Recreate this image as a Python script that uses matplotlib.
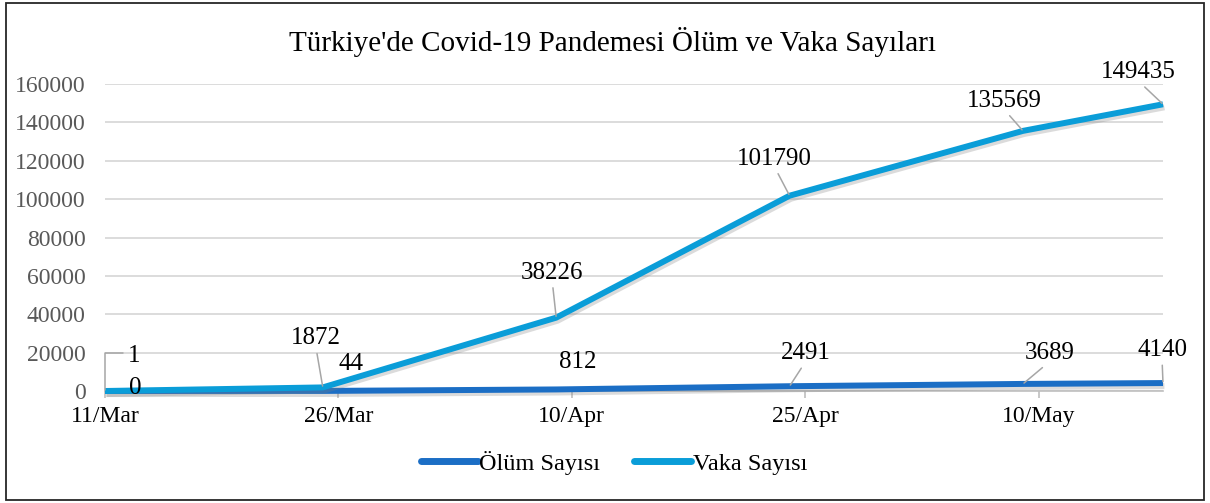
import matplotlib
matplotlib.use('Agg')
import matplotlib.pyplot as plt
import matplotlib.dates as mdates
import matplotlib.patheffects as pe
from matplotlib.patches import Rectangle
import datetime as dt

plt.rcParams['font.family'] = ['Liberation Serif', 'DejaVu Serif']

# data
dates = ['2020-03-11', '2020-03-25', '2020-04-09', '2020-04-24', '2020-05-09', '2020-05-18']
olum = [0, 44, 812, 2491, 3689, 4140]
vaka = [1, 1872, 38226, 101790, 135569, 149435]
series_names = ['Ölüm Sayısı', 'Vaka Sayısı']
title = "Türkiye'de Covid-19 Pandemesi Ölüm ve Vaka Sayıları"

x = [dt.datetime.strptime(d, '%Y-%m-%d') for d in dates]

# label offsets in pixels (dx, dy) and whether a leader line is drawn
olum_off = [(30, 3, False), (28, 27, False), (22, 27, False), (16, 33, True), (27, 31, True), (-1, 33, True)]
vaka_off = [(29, 35, True), (-7, 49, True), (-4, 45, True), (-15, 37, True), (-19, 30, True), (-25, 32, True)]

c_olum = '#1B6EC5'
c_vaka = '#0A9DD8'

fig = plt.figure(figsize=(12.1, 5.03), dpi=100)
ax = fig.add_axes([105/1210, 1-391/503, (1163-105)/1210, (391-84)/503])

shadow = [pe.SimpleLineShadow(offset=(1.0, -2.2), shadow_color='#7F7F7F', alpha=0.28), pe.Normal()]
ax.plot(x, olum, color=c_olum, lw=4.3, solid_capstyle='butt', label=series_names[0],
        path_effects=shadow, zorder=3, clip_on=False)
ax.plot(x, vaka, color=c_vaka, lw=4.3, solid_capstyle='butt', label=series_names[1],
        path_effects=shadow, zorder=4, clip_on=False)

def put_labels(vals, offs):
    for i, (xi, v, (dx, dy, lead)) in enumerate(zip(x, vals, offs)):
        ap = None
        if lead:
            ap = dict(arrowstyle='-', color='#A6A6A6', lw=1.1, shrinkA=1, shrinkB=1,
                      relpos=(0.5, 0.12))
            if i == 0:
                ap['connectionstyle'] = 'angle,angleA=0,angleB=90,rad=0'
                ap['relpos'] = (-0.3, 0.62)
        ax.annotate(str(v), xy=(xi, v), xytext=(dx, dy), textcoords='offset pixels',
                    ha='center', va='center', fontsize=18, color='black',
                    arrowprops=ap, zorder=6, annotation_clip=False)

put_labels(olum, olum_off)
put_labels(vaka, vaka_off)

ax.set_xlim(dt.datetime(2020, 3, 11), dt.datetime(2020, 5, 18))
ax.set_ylim(0, 160000)
ax.set_yticks(range(0, 160001, 20000))
ax.set_xticks([dt.datetime(2020, 3, 11) + dt.timedelta(days=15*i) for i in range(5)])
ax.xaxis.set_major_formatter(mdates.DateFormatter('%d/%b'))

ax.grid(axis='y', color='#D9D9D9', lw=1.3)
ax.set_axisbelow(True)
for s in ['top', 'right', 'left']:
    ax.spines[s].set_visible(False)
ax.spines['bottom'].set_color('#BFBFBF')
ax.spines['bottom'].set_linewidth(1.2)
ax.tick_params(axis='y', length=0, pad=14, labelsize=17, labelcolor='#595959')
ax.tick_params(axis='x', length=5, width=1.2, color='#BFBFBF', pad=6, labelsize=17, labelcolor='black')

fig.text(612/1210, 1-42/503, title, ha='center', va='center', fontsize=21)

leg = fig.legend(loc='center', bbox_to_anchor=(614/1210, 1-463/503), ncol=2, frameon=False,
                 fontsize=17.5, handlelength=2.35, handletextpad=0.05, columnspacing=1.4)
for h in leg.get_lines():
    h.set_linewidth(5)
    h.set_solid_capstyle('round')
    h.set_path_effects([])

fig.patches.append(Rectangle((6/1210, 1-500/503), 1198/1210, 497/503, transform=fig.transFigure,
                             fill=False, edgecolor='#262626', lw=1.3))

fig.savefig('out.png', dpi=100)
